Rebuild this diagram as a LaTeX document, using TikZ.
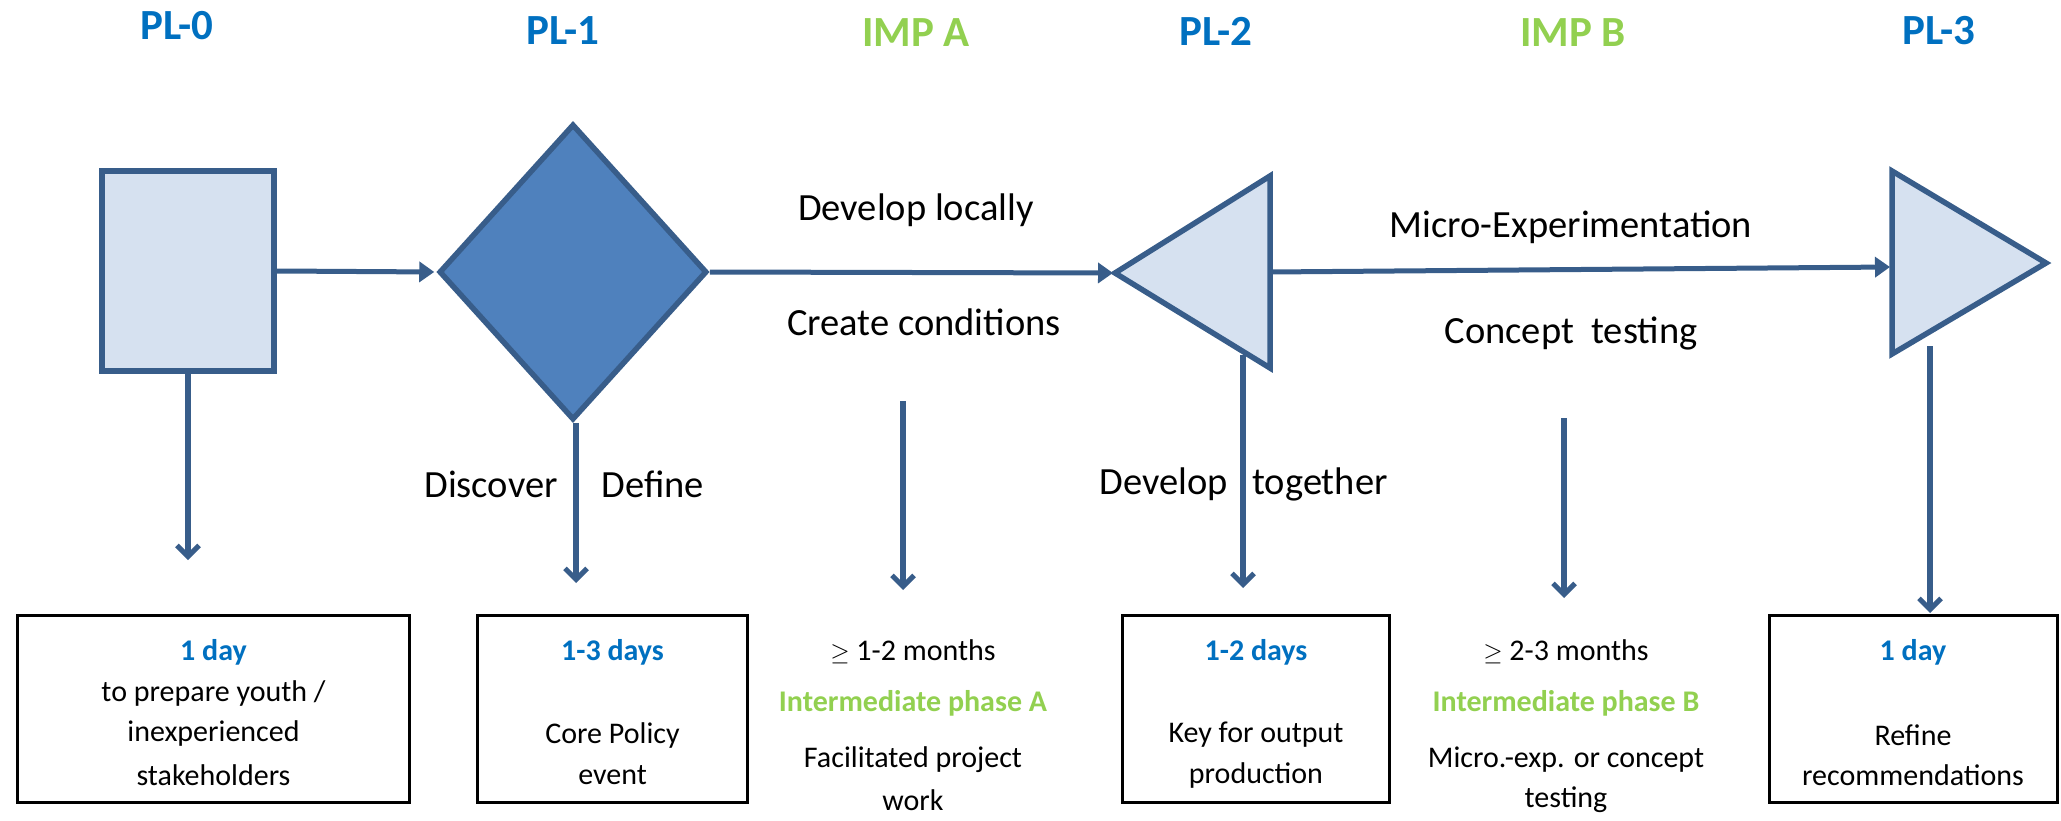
\documentclass[tikz,border=0pt]{standalone}
\usepackage{fontspec}
\setmainfont{Carlito}
\usetikzlibrary{shapes.geometric,arrows.meta}
\definecolor{edgeblue}{HTML}{385D8A}
\definecolor{lightfill}{HTML}{D6E1F0}
\definecolor{darkfill}{HTML}{4F81BD}
\definecolor{titleblue}{HTML}{0070C0}
\definecolor{titlegreen}{HTML}{92D050}
\begin{document}
\begin{tikzpicture}[x=1pt,y=-1pt,
  title/.style={font=\fontsize{43}{48}\selectfont\bfseries, text=titleblue, inner sep=0pt},
  gtitle/.style={title, text=titlegreen},
  lbl/.style={font=\fontsize{38.5}{44}\selectfont, inner sep=0pt},
  btxt/.style={font=\fontsize{30}{36}\selectfont, inner sep=0pt},
  bblue/.style={btxt, font=\fontsize{30}{36}\selectfont\bfseries, text=titleblue},
  bgreen/.style={btxt, font=\fontsize{30}{36}\selectfont\bfseries, text=titlegreen},
  infobox/.style={draw=black, line width=3pt, minimum height=187pt, inner sep=0pt},
  shapeline/.style={draw=edgeblue, line width=5.5pt, line join=miter},
  flow/.style={draw=edgeblue, line width=5pt, -{Triangle[width=20pt,length=15pt]}, shorten >=2pt},
  downflow/.style={draw=edgeblue, line width=5.5pt, -{Straight Barb[length=11pt,width=22pt,line width=5pt]}}
]
\useasboundingbox (0,0) rectangle (2061,821);

% titles
\node[title]  (t0) at (177,26) {PL-0};
\node[title]  (t1) at (563,31) {PL-1};
\node[gtitle] (ta) at (916,33) {IMP A};
\node[title]  (t2) at (1216,31) {PL-2};
\node[gtitle] (tb) at (1573,33) {IMP B};
\node[title]  (t3) at (1939,31) {PL-3};

% main shapes
\node[shapeline, fill=lightfill, rectangle, minimum width=172pt, minimum height=200pt, inner sep=0pt] (pl0) at (188,271) {};
\node[shapeline, fill=darkfill, diamond, minimum width=268pt, minimum height=296pt, inner sep=0pt] (pl1) at (573,272) {};

\coordinate (p2apex) at (1115,273);
\coordinate (p2top) at (1270,176);
\coordinate (p2bot) at (1270,368);
\coordinate (p2base) at (1270,272);
\filldraw[shapeline, fill=lightfill] (p2apex) -- (p2top) -- (p2bot) -- cycle;

\coordinate (p3top) at (1892,171);
\coordinate (p3bot) at (1892,354);
\coordinate (p3tip) at (2046,263);
\coordinate (p3base) at (1892,267);
\filldraw[shapeline, fill=lightfill] (p3top) -- (p3tip) -- (p3bot) -- cycle;

% horizontal flow
\draw[flow] (pl0.east) -- (pl1.west);
\draw[flow] (pl1.east) -- (p2apex);
\draw[flow] (p2base) -- (p3base);

% labels along flow
\node[lbl] (l1) at (916,210) {Develop locally};
\node[lbl] (l2) at (924,322) {Create conditions};
\node[lbl] (l3) at (1571,227) {Micro-Experimentation};
\node[lbl] (l4) at (1571,333) {Concept\ \ testing};
\node[lbl] (l5) at (491,484) {Discover};
\node[lbl] (l6) at (653,484) {Define};
\node[lbl] (l7) at (1164,484) {Develop};
\node[lbl] (l8) at (1320,484) {together};

% vertical arrows
\coordinate (e0) at (188,560);
\coordinate (e1) at (576,583);
\coordinate (sa) at (903,401);
\coordinate (ea) at (903,590);
\coordinate (s2) at (1243,355);
\coordinate (e2) at (1243,588);
\coordinate (sb) at (1564,418);
\coordinate (eb) at (1564,598);
\coordinate (s3) at (1930,346);
\coordinate (e3) at (1930,613);
\draw[downflow] (pl0.south) -- (e0);
\draw[downflow] (pl1.south -| e1) -- (e1);
\draw[downflow] (sa) -- (ea);
\draw[downflow] (s2) -- (e2);
\draw[downflow] (sb) -- (eb);
\draw[downflow] (s3) -- (e3);

% bottom boxes
\node[infobox, minimum width=392pt] (b0) at (213.5,709) {};
\node[infobox, minimum width=270pt] (b1) at (612.5,709) {};
\node[infobox, minimum width=267pt] (b2) at (1256,709) {};
\node[infobox, minimum width=288pt] (b3) at (1913,709) {};

% box 0
\node[bblue] (b0a) at (213.5,652) {1 day};
\node[btxt]  (b0b) at (213.5,693) {to prepare youth /};
\node[btxt]  (b0c) at (213.5,733) {inexperienced};
\node[btxt]  (b0d) at (213.5,775) {stakeholders};
% box 1
\node[bblue] (b1a) at (612.5,652) {1-3 days};
\node[btxt]  (b1b) at (612.5,735) {Core Policy};
\node[btxt]  (b1c) at (612.5,775) {event};
% IMP A column
\node[btxt]   (ca) at (913,652) {$\geq$ 1-2 months};
\node[bgreen] (cb) at (913,703) {Intermediate phase A};
\node[btxt]   (cc) at (913,760) {Facilitated project};
\node[btxt]   (cd) at (913,800) {work};
% box 2
\node[bblue] (b2a) at (1256,652) {1-2 days};
\node[btxt]  (b2b) at (1256,735) {Key for output};
\node[btxt]  (b2c) at (1256,775) {production};
% IMP B column
\node[btxt]   (da) at (1566,652) {$\geq$ 2-3 months};
\node[bgreen] (db) at (1566,703) {Intermediate phase B};
\node[btxt]   (dc) at (1566,760) {Micro.-exp. or concept};
\node[btxt]   (dd) at (1566,800) {testing};
% box 3
\node[bblue] (b3a) at (1913,652) {1 day};
\node[btxt]  (b3b) at (1913,735) {Refine};
\node[btxt]  (b3c) at (1913,775) {recommendations};
\end{tikzpicture}
\end{document}
